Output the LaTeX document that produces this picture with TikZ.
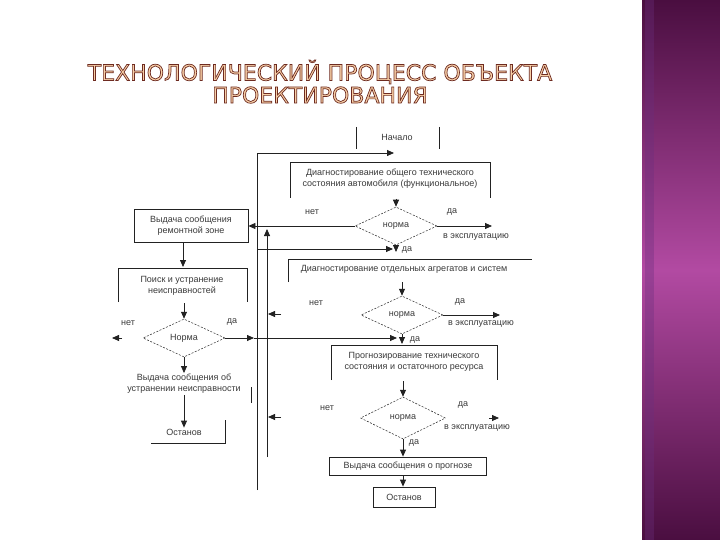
\documentclass[tikz,border=0pt]{standalone}
\usepackage{fontspec}
\setmainfont{Liberation Sans}
\newfontfamily\titlefont{DejaVu Sans}
\usetikzlibrary{shapes.geometric,arrows.meta}
\definecolor{ink}{HTML}{222222}
\definecolor{txtgray}{HTML}{3A3A3A}
\definecolor{ttlfill}{HTML}{F7CFA6}
\definecolor{pdark}{HTML}{4A0E40}
\definecolor{pmid}{HTML}{B24AA2}
\definecolor{pline}{HTML}{6A2F7E}
\newcommand\outlinedtext[1]{\special{pdf:literal 2 Tr 0.7 w 0.43 0.17 0.13 RG}#1\special{pdf:literal 0 Tr}}
\begin{document}
\begin{tikzpicture}[x=1pt,y=-1pt,
 ln/.style={draw=ink,line width=0.8pt},
 arr/.style={ln,-{Triangle[length=7pt,width=6pt]}},
 lbl/.style={font=\fontsize{9}{11}\selectfont,text=txtgray,inner sep=1pt,align=center},
 dia/.style={diamond,draw=ink,dash pattern=on 2pt off 1.5pt,line width=0.5pt,minimum width=82pt,minimum height=38pt,inner sep=0pt,aspect=2.2,font=\fontsize{9}{11}\selectfont,text=txtgray},
 rbox/.style={rectangle,draw=ink,line width=0.8pt,font=\fontsize{9}{11}\selectfont,text=txtgray,align=center,inner sep=2pt},
 ttl/.style={font=\titlefont\fontsize{22}{25}\selectfont,inner sep=0pt,text=ttlfill}
]
\useasboundingbox (0,0) rectangle (720,540);
\fill[white] (0,0) rectangle (720,540);
% right strip
\shade[top color=pdark, bottom color=pdark, middle color=pmid] (642,0) rectangle (720,540);
\fill[pline, opacity=0.35] (645,0) rectangle (654,540);

% title
\node[ttl] (title1) at (320,72) {\outlinedtext{ТЕХНОЛОГИЧЕСКИЙ ПРОЦЕСС ОБЪЕКТА}};
\node[ttl] (title2) at (320,95) {\outlinedtext{ПРОЕКТИРОВАНИЯ}};

% start
\node[lbl] (start) at (397,137) {Начало};
\draw[ln] (356,127) -- (356,149);
\draw[ln] (439,127) -- (439,149);

% left loop lines
\coordinate (L1top) at (257,153);
\coordinate (L1bot) at (257,490);
\draw[ln] (L1bot) -- (L1top);
\draw[arr] (L1top) -- (394,153);
\coordinate (L2top) at (267,229);
\coordinate (L2bot) at (267,457);
\draw[arr] (L2bot) -- (L2top);

% box 1
\node[lbl] (d1) at (390,179) {Диагностирование общего технического\\состояния автомобиля (функциональное)};
\draw[ln] (290,198) -- (290,162) -- (490,162) -- (490,198);

\node[dia] (n1) at (396,226) {норма};
\draw[arr] (396,199) -- (n1.north);
\node[lbl] at (312,212) {нет};
\node[lbl] at (452,212) {да};
\coordinate (exp1) at (492,226);
\draw[arr] (n1.east) -- (exp1);
\node[lbl] at (476,237) {в эксплуатацию};

\node[rbox, minimum width=114pt, minimum height=33pt] (r1) at (191,226) {Выдача сообщения\\ремонтной зоне};
\draw[arr] (n1.west) -- (r1.east);

\draw[arr] (257,249) -- (393,249);
\draw[arr] (n1.south) -- (396,252);
\node[lbl] at (407,250) {да};

% box 2
\draw[ln] (288,282) -- (288,259) -- (532,259);
\node[lbl] (d2) at (404,269) {Диагностирование отдельных агрегатов и систем};
\node[dia] (n2) at (402,315) {норма};
\draw[arr] (402,282) -- (n2.north);
\node[lbl] at (316,303) {нет};
\node[lbl] at (460,302) {да};
\draw[arr] (n2.east) -- (500,315);
\node[lbl] at (481,324) {в эксплуатацию};
\draw[arr] (281,314) -- (268,314);
\draw[arr] (n2.south) -- (402,344);
\node[lbl] at (415,340) {да};

% box 3
\draw[ln] (331,380) -- (331,345) -- (497,345) -- (497,380);
\node[lbl] (d3) at (414,362) {Прогнозирование технического\\состояния и остаточного ресурса};

\node[dia, minimum width=85pt, minimum height=42pt] (n3) at (403,418) {норма};
\draw[arr] (403,381) -- (n3.north);
\node[lbl] at (327,408) {нет};
\node[lbl] at (463,405) {да};
\draw[arr] (489,418) -- (499,418);
\node[lbl] at (477,428) {в эксплуатацию};
\draw[arr] (281,417) -- (268,417);
\node[lbl] at (414,443) {да};

\node[rbox, minimum width=157pt, minimum height=18pt] (b4) at (408,466) {Выдача сообщения о прогнозе};
\draw[arr] (n3.south) -- (n3.south |- b4.north);
\node[rbox, minimum width=62pt, minimum height=20pt] (b5) at (404,497) {Останов};
\draw[arr] (n3.south |- b4.south) -- (n3.south |- b5.north);

% left branch
\draw[ln] (118,302) -- (118,268) -- (247,268) -- (247,302);
\node[lbl] (s1) at (182,286) {Поиск и устранение\\неисправностей};
\draw[arr] ([xshift=-8pt]r1.south) -- (183,267);
\node[dia] (n4) at (184,338) {Норма};
\draw[arr] (184,303) -- (n4.north);
\node[lbl] at (128,323) {нет};
\node[lbl] at (232,322) {да};
\draw[arr] (122,338) -- (112,338);
\draw[arr] (n4.east) -- (254,338);
\draw[arr] (254,338) -- (397,338);
\node[lbl] (s2) at (184,384) {Выдача сообщения об\\устранении неисправности};
\draw[arr] (n4.south) -- (s2.north);
\draw[ln] (251,387) -- (251,403);
\node[lbl] (s3) at (184,432) {Останов};
\draw[arr] (s2.south) -- (s3.north);
\draw[ln] (151,443) -- (225,443) -- (225,420);
\end{tikzpicture}
\end{document}
